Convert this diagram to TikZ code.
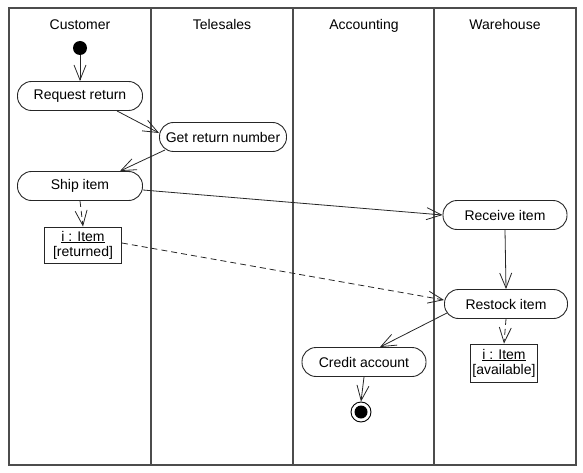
\documentclass[tikz,border=0pt]{standalone}
\usepackage{fontspec}
\setmainfont{Liberation Sans}
\usetikzlibrary{arrows.meta,calc}
\begin{document}
\begin{tikzpicture}[x=1pt,y=-1pt,
  frame/.style={draw=black!70, line width=1.1pt},
  head/.style={font=\fontsize{14}{16}\selectfont, anchor=base},
  act/.style={draw=black!85, line width=0.9pt, rounded corners=14pt, minimum height=29pt, inner sep=1pt, font=\fontsize{14}{16}\selectfont},
  obj/.style={draw=black!85, line width=0.9pt, align=center, inner sep=1.5pt, font=\fontsize{14}{15}\selectfont},
  flow/.style={line width=0.8pt, draw=black!85, -{Straight Barb[length=15pt,width=12pt,line width=0.8pt]}},
  oflow/.style={flow, dash pattern=on 6pt off 4pt}]
\useasboundingbox (0,0) rectangle (583,473);
% swimlanes
\draw[frame] (9,8) rectangle (576,465);
\draw[frame] (151,8) -- (151,465);
\draw[frame] (293,8) -- (293,465);
\draw[frame] (434,8) -- (434,465);
\node[head] (hc) at (80,30) {Customer};
\node[head] (ht) at (222,30) {Telesales};
\node[head] (ha) at (364,30) {Accounting};
\node[head] (hw) at (505,30) {Warehouse};
% nodes
\node[circle, fill=black, inner sep=0pt, minimum size=14pt] (start) at (80,48) {};
\node[act, minimum width=125pt] (req) at (80,96) {Request return};
\node[act, minimum width=127pt] (grn) at (223,137) {Get return number};
\node[act, minimum width=125pt] (ship) at (80,186) {Ship item};
\node[obj, minimum width=77pt, minimum height=36pt] (ret) at (83,245) {\underline{i : Item}\\{[returned]}};
\node[act, minimum width=124pt] (recv) at (505,215) {Receive item};
\node[act, minimum width=123pt] (rst) at (506,304) {Restock item};
\node[act, minimum width=124pt] (cred) at (364,362) {Credit account};
\node[obj, minimum width=67pt, minimum height=38pt] (avail) at (504,363) {\underline{i : Item}\\{[available]}};
\node[circle, draw=black, line width=0.9pt, minimum size=20pt, inner sep=0pt] (final) at (361,412) {};
\node[circle, fill=black, minimum size=13pt, inner sep=0pt] (finalin) at (final) {};
% flows
\draw[flow] (start) -- (req);
\draw[flow] ($(req.south)+(37,0)$) -- ($(grn.west)+(0,-4)$);
\draw[flow] ($(grn.south west)+(6,-2)$) -- ($(ship.north)+(40,0)$);
\draw[oflow] (ship.south) -- (ret.north);
\draw[flow] ($(ship.east)+(0,4)$) -- (recv.west);
\draw[oflow] ($(ret.east)+(0,-2)$) -- ($(rst.west)+(0,-4)$);
\draw[flow] (recv.south) -- (rst.north);
\draw[oflow] (rst.south) -- (avail.north);
\draw[flow] ($(rst.south west)+(3,-6)$) -- ($(cred.north)+(16,0)$);
\draw[flow] (cred.south) -- (final.north);
\end{tikzpicture}
\end{document}
